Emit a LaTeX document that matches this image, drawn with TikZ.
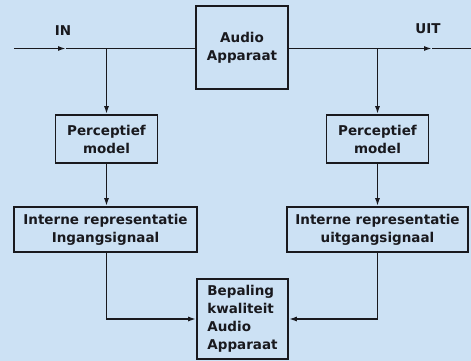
\documentclass[tikz,border=0pt]{standalone}
\usepackage{fontspec}
\setmainfont{DejaVu Sans}
\usetikzlibrary{arrows.meta}
\definecolor{paper}{RGB}{204,225,244}
\definecolor{ink}{RGB}{25,25,30}
\begin{document}
\begin{tikzpicture}[x=1pt,y=-1pt,
  every node/.style={font=\fontsize{13.5}{18}\selectfont\bfseries, text=ink},
  blok/.style={draw=ink, line width=1.6pt, rectangle, inner sep=0pt, align=center},
  lijn/.style={draw=ink, line width=1.6pt},
  pijl/.style={lijn, -{Latex[length=8pt,width=5pt]}}]
  % background
  \fill[paper] (0,0) rectangle (471,361);
  \useasboundingbox (0,0) rectangle (471,361);

  % blocks
  \node[blok, minimum width=92pt, minimum height=83pt] (audio) at (242,47.5) {Audio\\Apparaat};
  \node[blok, minimum width=102pt, minimum height=48pt] (pl) at (106.5,139) {Perceptief\\model};
  \node[blok, minimum width=102pt, minimum height=48pt] (pr) at (377.5,139) {Perceptief\\model};
  \node[blok, minimum width=183pt, minimum height=45pt] (il) at (105.5,229.5) {Interne representatie\\Ingangsignaal};
  \node[blok, minimum width=181pt, minimum height=45pt] (ir) at (377.5,229.5) {Interne representatie\\uitgangsignaal};
  \node[blok, align=left, minimum width=91pt, minimum height=80pt] (bq) at (242.5,319) {Bepaling\\kwaliteit\\Audio\\Apparaat};

  % signal line in and out
  \coordinate (inL) at (14,48.5);
  \coordinate (inA) at (66,48.5);
  \coordinate (outA) at (432,48.5);
  \coordinate (outR) at (471,48.5);
  \draw[pijl] (inL) -- (inA);
  \draw[lijn] (inA) -- (inA -| audio.west);
  \draw[pijl] (outA -| audio.east) -- (outA);
  \draw[lijn] (outA) -- (outR);
  \node (inlab) at (63,31) {IN};
  \node (uitlab) at (428,29) {UIT};

  % branches to the perceptual models
  \draw[pijl] (pl.north |- inL) -- (pl.north);
  \draw[pijl] (pr.north |- outR) -- (pr.north);
  \draw[pijl] (pl.south) -- (il.north -| pl.south);
  \draw[pijl] (pr.south) -- (ir.north -| pr.south);

  % to the quality estimate
  \draw[pijl] (il.south -| pl.south) |- (bq.west);
  \draw[pijl] (ir.south -| pr.south) |- (bq.east);
\end{tikzpicture}
\end{document}
